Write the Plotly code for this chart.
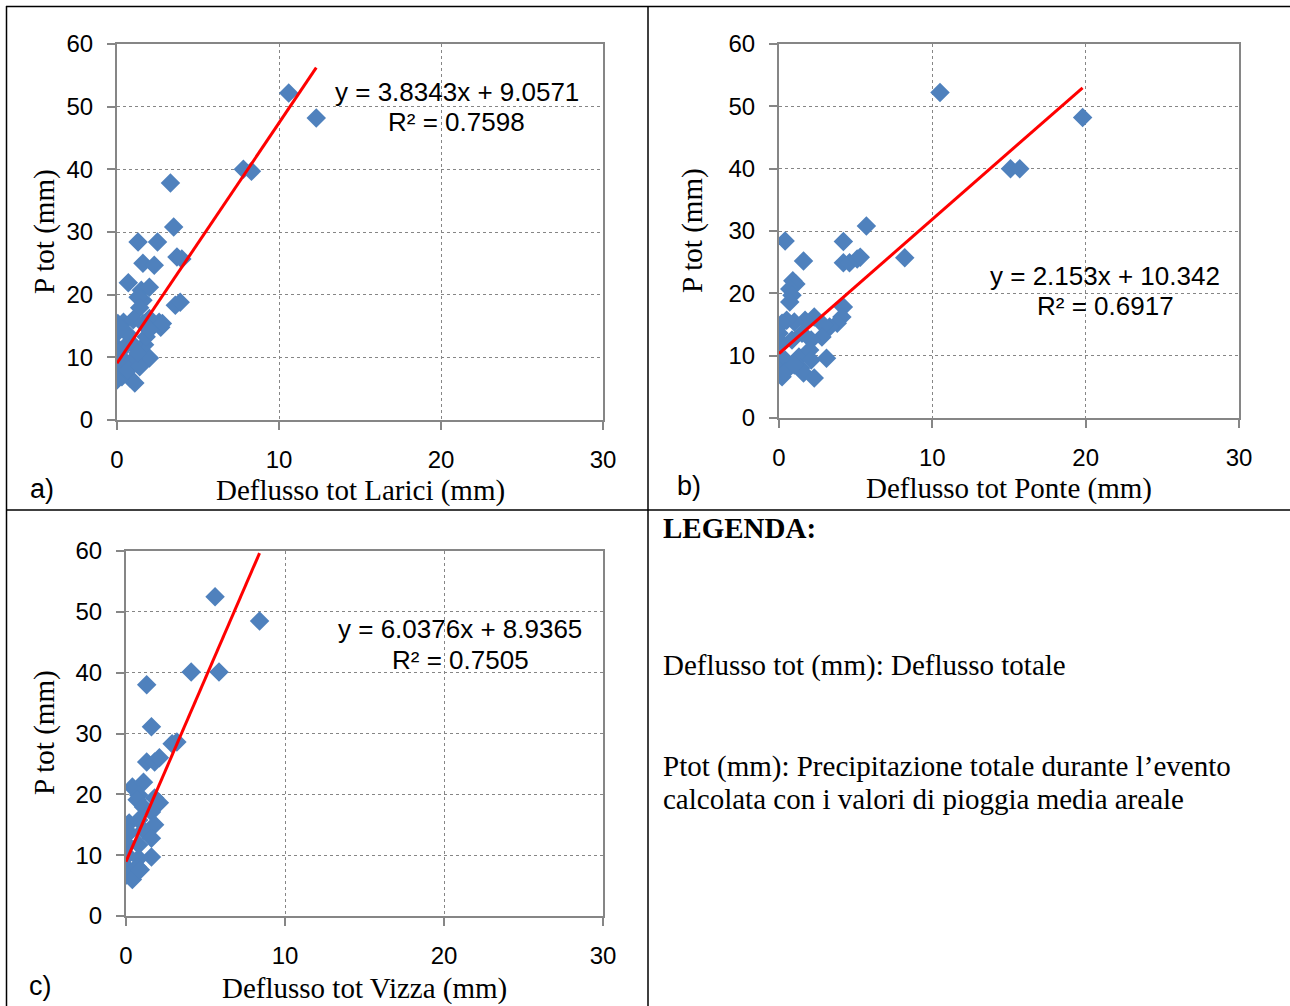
import plotly.graph_objects as go

# ---------------- data ----------------
larici_x = [10.6, 12.3, 7.8, 8.3, 3.3, 3.5, 1.3, 2.5, 1.6, 2.3, 3.7, 4.0, 0.7, 1.5, 2.0, 1.6, 1.3, 1.4,
            3.6, 3.9, 2.6, 2.0, 2.7, 2.8, 1.9, 2.0, 1.7, 0.05, 0.4, 1.0, 1.6, 0.0, 0.6, 1.8, 0.0, 0.4,
            1.0, 0.0, 0.4, 1.0, 0.0, 0.3, 0.8, 1.1, 0.0, 0.7, 1.4, 1.3, 2.0, 0.2]
larici_y = [52.2, 48.2, 40.0, 39.7, 37.8, 30.8, 28.4, 28.4, 25.0, 24.7, 26.0, 25.7, 21.9, 20.7, 21.2, 19.1, 19.6, 17.9,
            18.3, 18.8, 15.6, 16.2, 14.8, 15.4, 10.0, 9.9, 12.0, 15.4, 15.6, 16.0, 15.4, 13.9, 13.9, 13.3, 11.6, 11.5,
            12.0, 10.0, 9.6, 9.6, 7.7, 6.9, 6.7, 5.9, 6.4, 8.0, 8.5, 10.7, 14.4, 14.7]

ponte_x = [10.5, 19.8, 15.1, 15.7, 0.4, 4.2, 5.7, 8.2, 1.6, 4.2, 4.6, 5.1, 5.3, 0.9, 1.1, 0.7, 0.85, 0.7,
           4.2, 4.1, 3.8, 3.3, 2.9, 2.3, 1.7, 1.0, 0.5, 0.2, 2.8, 0.0, 0.2, 0.85, 1.5, 2.1, 0.0, 0.4,
           1.3, 2.0, 2.1, 3.1, 0.0, 0.2, 1.4, 1.6, 2.3, 0.4, 1.0]
ponte_y = [52.2, 48.2, 40.0, 40.0, 28.4, 28.3, 30.8, 25.7, 25.2, 24.9, 24.9, 25.5, 25.8, 22.0, 21.5, 20.7, 19.7, 18.6,
           17.8, 16.2, 15.2, 14.6, 14.9, 16.2, 15.7, 15.4, 15.7, 15.2, 13.0, 13.6, 12.0, 12.5, 13.6, 12.5, 9.8, 9.3,
           9.8, 10.9, 9.3, 9.6, 7.7, 6.6, 8.0, 7.2, 6.4, 7.4, 8.5]

vizza_x = [5.6, 8.4, 4.1, 5.85, 1.3, 1.6, 2.9, 3.2, 1.3, 1.8, 2.1, 0.4, 1.1, 0.8, 0.7, 1.8, 2.1, 1.1,
           1.6, 0.2, 0.8, 1.8, 0.2, 1.1, 1.6, 0.1, 0.8, 1.6, 0.1, 0.8, 0.0, 0.7, 0.0, 0.4, 0.9]
vizza_y = [52.5, 48.5, 40.1, 40.1, 38.0, 31.1, 28.3, 28.6, 25.3, 25.3, 26.0, 21.2, 22.0, 19.9, 19.1, 19.4, 18.6, 17.9,
           17.1, 15.3, 15.8, 15.0, 13.7, 14.1, 12.8, 11.7, 11.7, 9.7, 10.0, 9.5, 8.1, 8.1, 6.7, 6.0, 7.6]

slopes = [3.8343, 2.153, 6.0376]
intercepts = [9.0571, 10.342, 8.9365]
r2_values = [0.7598, 0.6917, 0.7505]
x_titles = ["Deflusso tot Larici (mm)", "Deflusso tot Ponte (mm)", "Deflusso tot Vizza (mm)"]
panel_labels = ["a)", "b)", "c)"]
x_ticks = [0, 10, 20, 30]
y_ticks = [0, 10, 20, 30, 40, 50, 60]

# ---------------- layout helpers ----------------
W, H = 1290, 1006
def px(x):
    return x / W
def py(y):
    return 1 - y / H

BLUE = "#4F81BD"
GRAY = "#868686"
SANS = "Liberation Sans, Arial, sans-serif"
SERIF = "Liberation Serif, Times New Roman, serif"

# plot areas in pixels: (left, right, top, bottom)
boxes = [(117, 603, 44, 420), (779, 1239, 44, 418), (126, 603, 551, 916)]
eq_pos = [(457, 92, 122), (1105, 276, 306), (460, 629, 660)]
xt_pos = [(360, 490), (1009, 488), (364, 988)]
yt_pos = [(44, 232), (692, 231), (44, 733)]
lab_pos = [(42, 489), (689, 486), (40, 986)]

datasets = [(larici_x, larici_y), (ponte_x, ponte_y), (vizza_x, vizza_y)]

fig = go.Figure()
annotations = []

for i, ((xs, ys), (l, r, t, b)) in enumerate(zip(datasets, boxes)):
    ax = "" if i == 0 else str(i + 1)
    fig.add_trace(go.Scatter(
        x=xs, y=ys, mode="markers",
        marker=dict(symbol="diamond", size=15, color=BLUE, line=dict(width=0)),
        xaxis="x" + ax, yaxis="y" + ax, showlegend=False, hoverinfo="x+y"))
    x_end = max(xs)
    tx = [0, x_end]
    ty = [intercepts[i] + slopes[i] * v for v in tx]
    fig.add_trace(go.Scatter(
        x=tx, y=ty, mode="lines", line=dict(color="#FF0000", width=3),
        xaxis="x" + ax, yaxis="y" + ax, showlegend=False, hoverinfo="skip"))

    axis_common = dict(
        showline=True, linecolor=GRAY, linewidth=2, mirror=True,
        showgrid=True, gridcolor=GRAY, gridwidth=1, griddash="dot",
        ticks="outside", ticklen=8, tickwidth=2, tickcolor=GRAY,
        tickfont=dict(family=SANS, size=24, color="#000000"),
        zeroline=False, fixedrange=True, automargin=False,
    )
    fig.update_layout(**{
        "xaxis" + ax: dict(axis_common, domain=[px(l), px(r)], range=[0, 30],
                            tickvals=x_ticks, ticklabelstandoff=9,
                            anchor="y" + ax),
        "yaxis" + ax: dict(axis_common, domain=[py(b), py(t)], range=[0, 60],
                            tickvals=y_ticks, ticklabelstandoff=9,
                            anchor="x" + ax),
    })

    ex, ey1, ey2 = eq_pos[i]
    annotations.append(dict(
        x=px(ex), y=py(ey1), xref="paper", yref="paper", showarrow=False,
        text=f"y = {slopes[i]}x + {intercepts[i]}",
        font=dict(family=SANS, size=26, color="#000000"), xanchor="center", yanchor="middle"))
    annotations.append(dict(
        x=px(ex), y=py(ey2), xref="paper", yref="paper", showarrow=False,
        text=f"R² = {r2_values[i]}",
        font=dict(family=SANS, size=26, color="#000000"), xanchor="center", yanchor="middle"))
    xx, xy = xt_pos[i]
    annotations.append(dict(
        x=px(xx), y=py(xy), xref="paper", yref="paper", showarrow=False,
        text=x_titles[i], font=dict(family=SERIF, size=29, color="#000000"),
        xanchor="center", yanchor="middle"))
    yx, yy = yt_pos[i]
    annotations.append(dict(
        x=px(yx), y=py(yy), xref="paper", yref="paper", showarrow=False,
        text="P tot (mm)", textangle=-90, font=dict(family=SERIF, size=29, color="#000000"),
        xanchor="center", yanchor="middle"))
    lx, ly = lab_pos[i]
    annotations.append(dict(
        x=px(lx), y=py(ly), xref="paper", yref="paper", showarrow=False,
        text=panel_labels[i], font=dict(family=SANS, size=27, color="#000000"),
        xanchor="center", yanchor="middle"))

legend_lines = [
    ("<b>LEGENDA:</b>", 528),
    ("Deflusso tot (mm): Deflusso totale", 665),
    ("Ptot (mm): Precipitazione totale durante l’evento", 766),
    ("calcolata con i valori di pioggia media areale", 799),
]
for txt, yy in legend_lines:
    annotations.append(dict(
        x=px(661), y=py(yy), xref="paper", yref="paper", showarrow=False,
        text=txt, font=dict(family=SERIF, size=29, color="#000000"),
        xanchor="left", yanchor="middle"))

shapes = []
def hline(y, x0, x1):
    shapes.append(dict(type="line", xref="paper", yref="paper", x0=px(x0), x1=px(x1), y0=py(y), y1=py(y),
                       line=dict(color="#000000", width=1.5)))
def vline(x, y0, y1):
    shapes.append(dict(type="line", xref="paper", yref="paper", x0=px(x), x1=px(x), y0=py(y0), y1=py(y1),
                       line=dict(color="#000000", width=1.5)))
hline(6.5, 6, 1290)
hline(510, 6, 1290)
vline(6.5, 6, 1006)
vline(648, 6, 1006)

fig.update_layout(
    width=W, height=H, margin=dict(l=0, r=0, t=0, b=0, autoexpand=False),
    paper_bgcolor="white", plot_bgcolor="white",
    annotations=annotations, shapes=shapes, showlegend=False,
)

fig.write_html(
    "out.html",
    config={"displayModeBar": False, "responsive": False},
    post_script="document.body.style.margin='0';document.body.style.padding='0';"
                "document.body.style.overflow='hidden';",
)
